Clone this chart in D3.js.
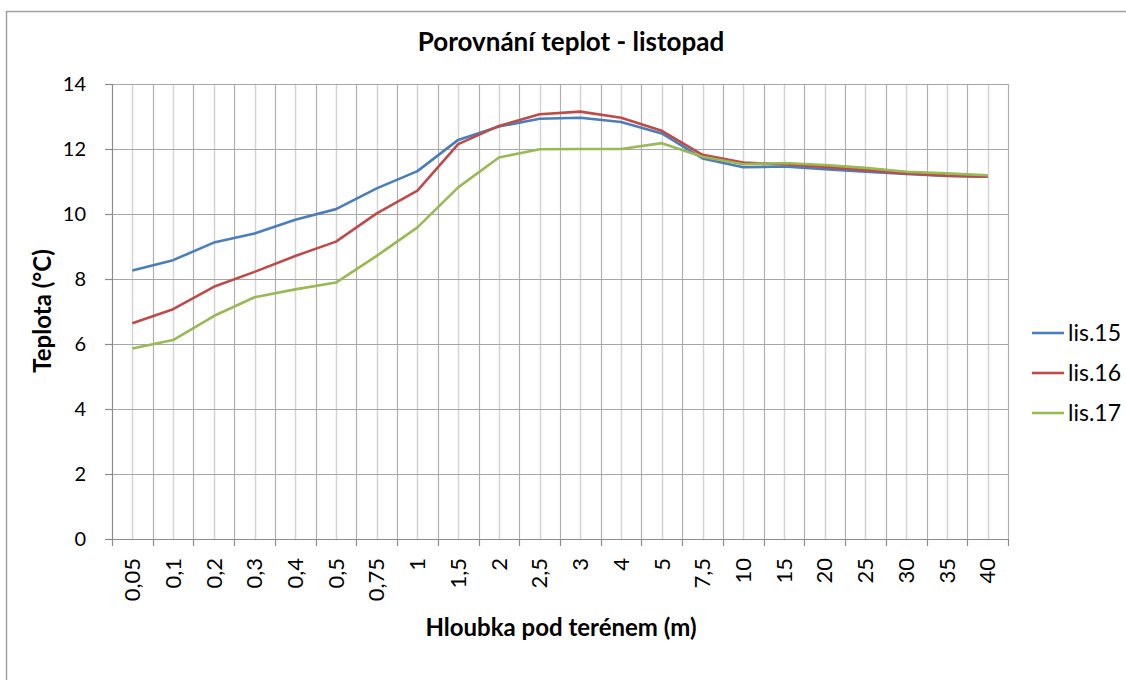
<!DOCTYPE html>
<html>
<head>
<meta charset="utf-8">
<script src="https://cdn.jsdelivr.net/npm/d3@7"></script>
<style>
  body { margin: 0; background: #fff; }
  svg { display: block; }
  text { font-family: Lato, "Open Sans", sans-serif; fill: #000; }
</style>
</head>
<body>
<svg id="chart" width="1126" height="680"></svg>
<script>
const categories = ["0,05","0,1","0,2","0,3","0,4","0,5","0,75","1","1,5","2","2,5","3","4","5","7,5","10","15","20","25","30","35","40"];
const lis15 = [8.26,8.58,9.12,9.40,9.82,10.15,10.79,11.32,12.28,12.69,12.93,12.96,12.83,12.48,11.71,11.44,11.46,11.38,11.30,11.23,11.17,11.15];
const lis16 = [6.64,7.07,7.76,8.22,8.71,9.15,10.02,10.72,12.15,12.71,13.07,13.15,12.96,12.56,11.82,11.58,11.53,11.45,11.35,11.25,11.18,11.15];
const lis17 = [5.86,6.12,6.86,7.44,7.68,7.89,8.71,9.59,10.82,11.74,11.99,12.00,12.00,12.18,11.76,11.53,11.57,11.51,11.42,11.30,11.25,11.19];
const seriesNames = ["lis.15","lis.16","lis.17"];
const seriesColors = ["#4a7ebb","#be4b48","#98b954"];
const yTicks = [0,2,4,6,8,10,12,14];
const title = "Porovnání teplot - listopad";
const xTitle = "Hloubka pod terénem (m)";
const yTitle = "Teplota (°C)";

(function () {
const svg = d3.select("#chart");
const series = [lis15, lis16, lis17];

// outer chart border
svg.append("rect").attr("x", 6.5).attr("y", 11.5).attr("width", 1130).attr("height", 700)
  .attr("fill", "none").attr("stroke", "#a0a0a0").attr("stroke-width", 1.5);

const pL = 112, pR = 1008, pT = 84, pB = 539;
const x = d3.scaleBand().domain(categories).range([pL, pR]).padding(0);
const y = d3.scaleLinear().domain([0, 14]).range([pB, pT]);
const cx = c => x(c) + x.bandwidth() / 2;

// minor vertical gridlines (category centers)
svg.append("g").selectAll("line").data(categories).join("line")
  .attr("x1", d => Math.round(cx(d)) + 0.5).attr("x2", d => Math.round(cx(d)) + 0.5)
  .attr("y1", pT).attr("y2", pB)
  .attr("stroke", "#d4d4d4").attr("stroke-width", 1.5);

// major vertical gridlines (category boundaries)
svg.append("g").selectAll("line").data(categories).join("line")
  .attr("x1", d => Math.round(x(d) + x.bandwidth()) + 0.5)
  .attr("x2", d => Math.round(x(d) + x.bandwidth()) + 0.5)
  .attr("y1", pT).attr("y2", pB)
  .attr("stroke", "#b0b0b0").attr("stroke-width", 1.2);

// horizontal gridlines
svg.append("g").selectAll("line").data(yTicks.filter(t => t > 0)).join("line")
  .attr("x1", pL).attr("x2", pR)
  .attr("y1", d => Math.round(y(d)) + 0.5).attr("y2", d => Math.round(y(d)) + 0.5)
  .attr("stroke", "#a6a6a6").attr("stroke-width", 1.2);

// y axis
const yAxis = d3.axisLeft(y).tickValues(yTicks).tickSize(7).tickPadding(19);
const gy = svg.append("g").attr("transform", `translate(${pL},0)`).call(yAxis);
gy.select(".domain").attr("stroke", "#8c8c8c").attr("stroke-width", 1.2);
gy.selectAll(".tick line").attr("stroke", "#8c8c8c").attr("stroke-width", 1.2);
gy.selectAll(".tick text").attr("font-size", 20).attr("font-family", "Lato, sans-serif").attr("fill", "#000");

// x axis
const xAxis = d3.axisBottom(x).tickSize(0).tickPadding(0);
const gx = svg.append("g").attr("transform", `translate(0,${pB})`).call(xAxis);
gx.select(".domain").attr("stroke", "#8c8c8c").attr("stroke-width", 1.2);
gx.selectAll(".tick text")
  .attr("font-size", 22).attr("font-family", "Lato, sans-serif").attr("fill", "#000")
  .attr("transform", "rotate(-90)")
  .attr("text-anchor", "end")
  .attr("x", -19).attr("y", 0).attr("dy", "0.35em");
// x tick marks at category boundaries
const bounds = [pL].concat(categories.map(c => x(c) + x.bandwidth()));
svg.append("g").selectAll("line").data(bounds).join("line")
  .attr("x1", d => Math.round(d) + 0.5).attr("x2", d => Math.round(d) + 0.5)
  .attr("y1", pB).attr("y2", pB + 7)
  .attr("stroke", "#8c8c8c").attr("stroke-width", 1.2);

// lines
const line = d3.line().x((d, i) => cx(categories[i])).y(d => y(d));
series.forEach((s, k) => {
  svg.append("path").datum(s).attr("d", line)
    .attr("fill", "none").attr("stroke", seriesColors[k]).attr("stroke-width", 2.6)
    .attr("stroke-linejoin", "round");
});

// title
svg.append("text").attr("x", 571).attr("y", 51).attr("text-anchor", "middle")
  .attr("font-size", 26).attr("font-weight", "bold").text(title);
// axis titles
svg.append("text").attr("x", 561).attr("y", 636).attr("text-anchor", "middle")
  .attr("font-size", 24).attr("font-weight", "bold").text(xTitle);
svg.append("text").attr("transform", "translate(51,311) rotate(-90)").attr("text-anchor", "middle")
  .attr("font-size", 24).attr("font-weight", "bold").text(yTitle);

// legend
const lg = svg.append("g");
seriesNames.forEach((n, k) => {
  const ly = 333 + k * 40;
  lg.append("line").attr("x1", 1032).attr("x2", 1064).attr("y1", ly).attr("y2", ly)
    .attr("stroke", seriesColors[k]).attr("stroke-width", 2.6);
  lg.append("text").attr("x", 1068).attr("y", ly).attr("dy", "0.35em")
    .attr("font-size", 23).text(n);
});
})();
</script>
</body>
</html>
